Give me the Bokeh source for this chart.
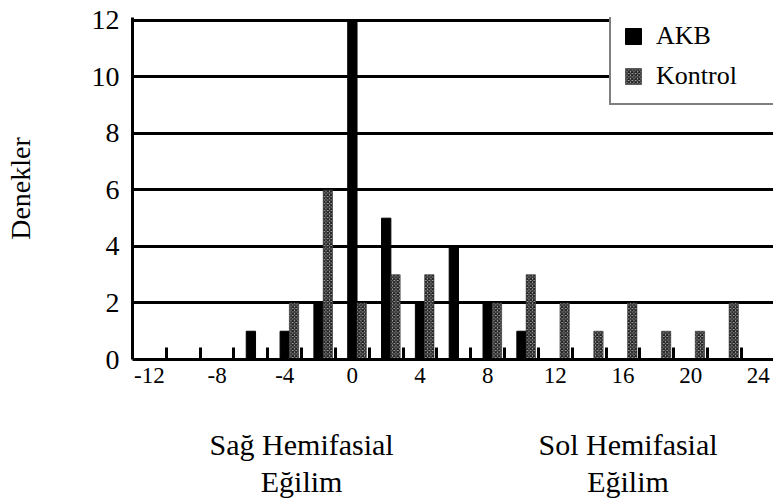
from bokeh.plotting import figure
from bokeh.embed import file_html
from bokeh.resources import INLINE
from bokeh.models import (ColumnDataSource, FixedTicker, Legend, LegendItem,
                          LinearAxis, Range1d)
from bokeh.transform import dodge

# ---- data ----
bins = [-12, -10, -8, -6, -4, -2, 0, 2, 4, 6, 8, 10, 12, 14, 16, 18, 20, 22]
akb = [0, 0, 0, 1, 1, 2, 12, 5, 2, 4, 2, 1, 0, 0, 0, 0, 0, 0]
kontrol = [0, 0, 0, 0, 2, 6, 2, 3, 3, 0, 2, 3, 2, 1, 2, 1, 1, 2]
x_tick_labels = [-12, -8, -4, 0, 4, 8, 12, 16, 20, 24]
y_ticks = [0, 2, 4, 6, 8, 10, 12]
series_names = ["AKB", "Kontrol"]
side_labels = ["Sağ Hemifasial\nEğilim", "Sol Hemifasial\nEğilim"]
side_label_pos = [-3.0, 16.3]

FONT = "Liberation Serif"

src = ColumnDataSource(dict(x=bins, akb=akb, kontrol=kontrol))

p = figure(width=773, height=501,
           x_range=Range1d(-13.0, 24.9), y_range=Range1d(0, 12.1),
           output_backend="svg", toolbar_location=None,
           min_border_left=132, min_border_right=0,
           min_border_top=17, min_border_bottom=140)
p.outline_line_color = None
p.background_fill_color = "white"
p.border_fill_color = "white"

bw = 0.55
r_akb = p.vbar(x=dodge("x", 0.0), top="akb", width=bw, bottom=0, source=src,
               fill_color="black", line_color="black")
r_kon = p.vbar(x=dodge("x", bw), top="kontrol", width=bw, bottom=0, source=src,
               fill_color="#b8b8b8", line_color="#333", line_width=0.6,
               hatch_pattern="diagonal_cross", hatch_color="#222222",
               hatch_scale=3.5, hatch_weight=1.4)

# grid
p.xgrid.visible = False
p.ygrid.ticker = FixedTicker(ticks=y_ticks[1:])
p.ygrid.grid_line_color = "black"
p.ygrid.grid_line_width = 3
p.ygrid.level = "underlay"

# x axis
xa = p.xaxis[0]
xa.ticker = FixedTicker(ticks=x_tick_labels,
                        minor_ticks=[b + 1 for b in bins] + [-11])
xa.major_label_overrides = {t: str(t) for t in x_tick_labels}
xa.major_tick_in = 0
xa.major_tick_out = 0
xa.minor_tick_in = 12
xa.minor_tick_out = 0
xa.minor_tick_line_width = 3
xa.minor_tick_line_color = "black"
xa.axis_line_width = 3
xa.axis_line_color = "black"
xa.major_label_text_font = FONT
xa.major_label_text_font_size = "23px"
xa.major_label_text_color = "black"
xa.major_label_standoff = 8

# second (text-only) axis below for the direction descriptions
xa2 = LinearAxis(ticker=FixedTicker(ticks=side_label_pos),
                 major_label_overrides={side_label_pos[i]: side_labels[i]
                                        for i in range(len(side_labels))})
xa2.axis_line_color = None
xa2.major_tick_line_color = None
xa2.minor_tick_line_color = None
xa2.major_label_text_font = FONT
xa2.major_label_text_font_size = "30px"
xa2.major_label_text_color = "black"
xa2.major_label_text_line_height = 1.15
xa2.major_label_standoff = 36
p.add_layout(xa2, "below")

# y axis
ya = p.yaxis[0]
ya.ticker = FixedTicker(ticks=y_ticks)
ya.major_tick_in = 0
ya.major_tick_out = 0
ya.minor_tick_in = 0
ya.minor_tick_out = 0
ya.axis_line_width = 3
ya.axis_line_color = "black"
ya.major_label_text_font = FONT
ya.major_label_text_font_size = "28px"
ya.major_label_text_color = "black"
ya.major_label_standoff = 13
ya.axis_label = "Denekler"
ya.axis_label_text_font = FONT
ya.axis_label_text_font_size = "28px"
ya.axis_label_text_font_style = "normal"
ya.axis_label_text_color = "black"
ya.axis_label_standoff = 53

# legend
legend = Legend(items=[LegendItem(label=series_names[0], renderers=[r_akb]),
                       LegendItem(label=series_names[1], renderers=[r_kon])],
                location=(477, 254))
legend.label_text_font = FONT
legend.label_text_font_size = "26px"
legend.label_text_color = "black"
legend.glyph_width = 20
legend.glyph_height = 20
legend.label_standoff = 13
legend.label_width = 120
legend.spacing = 10
legend.padding = 12
legend.margin = 0
legend.border_line_color = "black"
legend.border_line_width = 2
legend.background_fill_color = "white"
legend.background_fill_alpha = 1.0
p.add_layout(legend, "center")

open("out.html", "w").write(file_html(p, INLINE))
